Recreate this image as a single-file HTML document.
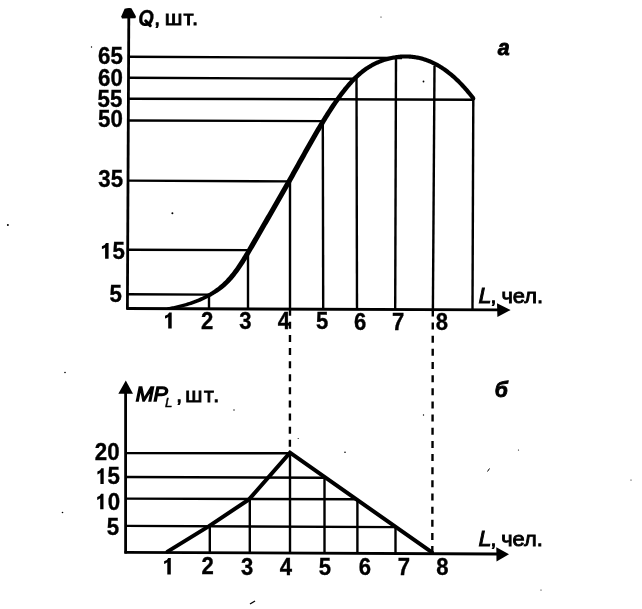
<!DOCTYPE html>
<html><head><meta charset="utf-8"><style>
html,body{margin:0;padding:0;background:#fff;}
svg{display:block;will-change:transform;}
line,path{stroke:#000;}
.f{fill:#000;stroke:none;}
text{font-family:"Liberation Sans",sans-serif;font-weight:bold;fill:#000;stroke:#000;stroke-width:0.35px;}
</style></head><body>
<svg width="642" height="609" viewBox="0 0 642 609">
<defs><clipPath id="qc" clipPathUnits="userSpaceOnUse"><rect x="-10" y="-30" width="40" height="31.3"/></clipPath></defs>
<line x1="128.8" y1="17" x2="127.4" y2="309.8" stroke-width="2.8"/>
<path d="M124.6,8.8 Q128,7.6 131.4,8.2 L136,16.5 L135.4,18.2 L122,18.6 L121.2,16.5 Z" class="f"/>
<line x1="127" y1="308.5" x2="498" y2="309.9" stroke-width="2.8"/>
<path d="M510.6,310 L497,303.2 L497.4,317 Z" class="f"/>
<line x1="128" y1="56.8" x2="402" y2="58" stroke-width="2.4"/>
<line x1="128" y1="77.8" x2="356" y2="78.8" stroke-width="2.4"/>
<line x1="128" y1="98.7" x2="474" y2="99.7" stroke-width="2.4"/>
<line x1="128" y1="120.5" x2="323" y2="121.1" stroke-width="2.4"/>
<line x1="128" y1="180.6" x2="290" y2="181.4" stroke-width="2.4"/>
<line x1="128" y1="249.8" x2="248" y2="250.1" stroke-width="2.4"/>
<line x1="128" y1="294.3" x2="209" y2="294.6" stroke-width="2.4"/>
<line x1="209" y1="295" x2="209" y2="309.5" stroke-width="2.4"/>
<line x1="248" y1="250" x2="248" y2="309.5" stroke-width="2.4"/>
<line x1="290" y1="181" x2="290" y2="309.5" stroke-width="2.4"/>
<line x1="322.8" y1="121" x2="323.2" y2="309.5" stroke-width="2.4"/>
<line x1="356.5" y1="78" x2="357" y2="309.5" stroke-width="2.4"/>
<line x1="396" y1="58" x2="395.2" y2="309.5" stroke-width="2.4"/>
<line x1="434.5" y1="66" x2="432.9" y2="309.5" stroke-width="2.4"/>
<line x1="473.3" y1="99.5" x2="472.5" y2="309.5" stroke-width="2.4"/>
<path d="M168.73,309.90 L169.74,309.75 L170.75,309.59 L171.76,309.43 L172.77,309.27 L173.78,309.09 L174.79,308.92 L175.80,308.73 L176.82,308.54 L177.83,308.34 L178.85,308.14 L179.86,307.93 L180.88,307.71 L181.89,307.48 L182.91,307.24 L183.92,307.00 L184.94,306.75 L185.96,306.48 L186.98,306.20 L187.99,305.92 L189.01,305.62 L190.03,305.31 L191.05,304.99 L192.06,304.67 L193.08,304.33 L194.10,303.98 L195.12,303.62 L196.14,303.24 L197.16,302.86 L198.19,302.46 L199.21,302.05 L200.23,301.63 L201.25,301.20 L202.27,300.75 L203.29,300.29 L204.32,299.81 L205.34,299.32 L206.37,298.83 L207.40,298.32 L208.43,297.81 L209.46,297.27 L210.49,296.72 L211.53,296.16 L212.56,295.58 L213.59,294.98 L214.63,294.37 L215.66,293.74 L216.70,293.08 L217.74,292.41 L218.78,291.71 L219.83,290.99 L220.87,290.24 L221.92,289.45 L222.97,288.64 L224.02,287.80 L225.07,286.92 L226.12,286.01 L227.16,285.05 L228.20,284.04 L229.24,283.00 L230.27,281.91 L231.31,280.79 L232.34,279.63 L233.37,278.43 L234.39,277.20 L235.42,275.93 L236.45,274.62 L237.47,273.28 L238.49,271.90 L239.51,270.49 L240.54,269.05 L241.56,267.57 L242.57,266.06 L243.59,264.52 L244.61,262.95 L245.62,261.35 L246.64,259.73 L247.65,258.08 L248.66,256.42 L249.67,254.73 L250.68,253.04 L251.69,251.33 L252.70,249.61 L253.71,247.88 L254.72,246.15 L255.72,244.41 L256.73,242.67 L257.73,240.94 L258.74,239.21 L259.74,237.48 L260.74,235.75 L261.75,234.02 L262.75,232.29 L263.75,230.56 L264.75,228.83 L265.75,227.10 L266.74,225.37 L267.74,223.65 L268.74,221.92 L269.74,220.19 L270.74,218.46 L271.74,216.73 L272.74,215.00 L273.73,213.27 L274.73,211.54 L275.73,209.81 L276.73,208.07 L277.73,206.33 L278.73,204.59 L279.73,202.85 L280.73,201.11 L281.73,199.37 L282.73,197.62 L283.73,195.87 L284.73,194.11 L285.73,192.36 L286.72,190.60 L287.72,188.83 L288.72,187.07 L289.72,185.29 L290.72,183.52 L291.72,181.74 L292.72,179.96 L293.72,178.17 L294.72,176.38 L295.72,174.59 L296.72,172.79 L297.72,170.99 L298.72,169.20 L299.72,167.40 L300.72,165.60 L301.71,163.81 L302.71,162.01 L303.71,160.21 L304.71,158.42 L305.71,156.63 L306.70,154.85 L307.70,153.06 L308.70,151.28 L309.70,149.51 L310.69,147.74 L311.69,145.97 L312.69,144.21 L313.68,142.46 L314.68,140.72 L315.68,138.98 L316.67,137.25 L317.67,135.53 L318.66,133.81 L319.66,132.11 L320.65,130.42 L321.65,128.74 L322.64,127.06 L323.63,125.40 L324.62,123.75 L325.60,122.11 L326.59,120.48 L327.58,118.87 L328.56,117.27 L329.55,115.68 L330.54,114.11 L331.52,112.56 L332.51,111.02 L333.49,109.50 L334.48,107.99 L335.46,106.50 L336.45,105.03 L337.43,103.58 L338.41,102.15 L339.40,100.74 L340.38,99.34 L341.36,97.97 L342.34,96.62 L343.32,95.29 L344.31,93.98 L345.29,92.70 L346.27,91.43 L347.25,90.20 L348.23,88.99 L349.21,87.80 L350.19,86.64 L351.17,85.50 L352.15,84.39 L353.13,83.30 L354.11,82.25 L355.08,81.22 L356.06,80.22 L357.03,79.24 L358.00,78.30 L358.97,77.39 L359.94,76.50 L360.92,75.64 L361.89,74.81 L362.86,74.01 L363.82,73.23 L364.79,72.48 L365.76,71.75 L366.73,71.05 L367.70,70.37 L368.66,69.72 L369.63,69.09 L370.60,68.48 L371.57,67.89 L372.53,67.33 L373.50,66.79 L374.47,66.27 L375.43,65.77 L376.40,65.28 L377.37,64.82 L378.33,64.38 L379.30,63.96 L380.27,63.55 L381.24,63.17 L382.21,62.80 L383.18,62.45 L384.15,62.12 L385.12,61.81 L386.09,61.51 L387.06,61.22 L388.04,60.95 L389.01,60.70 L389.98,60.45 L390.96,60.22 L391.93,60.01 L392.90,59.81 L393.87,59.62 L394.84,59.45 L395.82,59.29 L396.79,59.15 L397.76,59.02 L398.73,58.91 L399.69,58.81 L400.66,58.73 L401.63,58.66 L402.60,58.61 L403.57,58.57 L404.53,58.54 L405.50,58.54 L406.47,58.54 L407.44,58.57 L408.40,58.60 L409.37,58.66 L410.34,58.73 L411.30,58.81 L412.27,58.91 L413.23,59.03 L414.20,59.17 L415.17,59.32 L416.13,59.48 L417.10,59.67 L418.07,59.87 L419.03,60.08 L420.00,60.32 L420.97,60.57 L421.93,60.83 L422.90,61.12 L423.87,61.42 L424.84,61.74 L425.80,62.08 L426.77,62.43 L427.74,62.80 L428.71,63.19 L429.68,63.60 L430.65,64.03 L431.62,64.47 L432.59,64.93 L433.56,65.42 L434.54,65.92 L435.51,66.43 L436.48,66.97 L437.45,67.53 L438.43,68.10 L439.40,68.70 L440.38,69.31 L441.35,69.95 L442.33,70.60 L443.31,71.27 L444.28,71.97 L445.26,72.68 L446.24,73.41 L447.22,74.17 L448.20,74.94 L449.18,75.74 L450.16,76.55 L451.14,77.39 L452.12,78.24 L453.10,79.12 L454.08,80.02 L455.06,80.94 L456.05,81.88 L457.03,82.84 L458.01,83.82 L459.00,84.83 L459.98,85.86 L460.97,86.91 L461.95,87.98 L462.94,89.07 L463.92,90.18 L464.91,91.32 L465.90,92.48 L466.88,93.66 L467.87,94.87 L468.86,96.10 L469.85,97.35 L471.63,99.65 L474.97,97.11 L473.15,94.76 L472.14,93.48 L471.13,92.22 L470.12,90.99 L469.10,89.78 L468.09,88.59 L467.08,87.42 L466.06,86.28 L465.05,85.15 L464.03,84.05 L463.02,82.97 L462.00,81.92 L460.99,80.88 L459.97,79.87 L458.95,78.87 L457.94,77.90 L456.92,76.95 L455.90,76.02 L454.88,75.11 L453.86,74.22 L452.84,73.35 L451.82,72.51 L450.80,71.68 L449.78,70.88 L448.76,70.09 L447.74,69.33 L446.72,68.58 L445.69,67.86 L444.67,67.15 L443.65,66.47 L442.62,65.80 L441.60,65.16 L440.57,64.53 L439.55,63.93 L438.52,63.34 L437.49,62.78 L436.46,62.23 L435.44,61.70 L434.41,61.19 L433.38,60.70 L432.35,60.23 L431.32,59.78 L430.29,59.35 L429.26,58.94 L428.23,58.54 L427.20,58.17 L426.16,57.81 L425.13,57.47 L424.10,57.15 L423.07,56.85 L422.03,56.56 L421.00,56.30 L419.97,56.05 L418.93,55.82 L417.90,55.60 L416.87,55.41 L415.83,55.23 L414.80,55.07 L413.77,54.93 L412.73,54.81 L411.70,54.70 L410.66,54.61 L409.63,54.53 L408.60,54.48 L407.56,54.44 L406.53,54.41 L405.50,54.41 L404.47,54.42 L403.43,54.44 L402.40,54.49 L401.37,54.54 L400.34,54.62 L399.31,54.71 L398.27,54.82 L397.24,54.94 L396.21,55.07 L395.18,55.23 L394.16,55.39 L393.13,55.58 L392.10,55.78 L391.07,55.99 L390.04,56.22 L389.02,56.46 L387.99,56.72 L386.96,56.99 L385.94,57.27 L384.91,57.58 L383.88,57.89 L382.85,58.23 L381.82,58.58 L380.79,58.95 L379.76,59.34 L378.73,59.74 L377.70,60.16 L376.67,60.60 L375.63,61.06 L374.60,61.54 L373.57,62.04 L372.53,62.57 L371.50,63.11 L370.47,63.67 L369.43,64.26 L368.40,64.88 L367.37,65.51 L366.34,66.17 L365.30,66.85 L364.27,67.56 L363.24,68.30 L362.21,69.06 L361.18,69.84 L360.14,70.65 L359.11,71.49 L358.08,72.36 L357.06,73.26 L356.03,74.18 L355.00,75.13 L353.97,76.11 L352.94,77.12 L351.92,78.15 L350.89,79.22 L349.87,80.31 L348.85,81.42 L347.83,82.56 L346.81,83.73 L345.79,84.92 L344.77,86.13 L343.75,87.37 L342.73,88.63 L341.71,89.91 L340.69,91.22 L339.68,92.54 L338.66,93.89 L337.64,95.25 L336.62,96.64 L335.60,98.05 L334.59,99.47 L333.57,100.92 L332.55,102.38 L331.54,103.86 L330.52,105.36 L329.51,106.87 L328.49,108.40 L327.48,109.95 L326.46,111.51 L325.45,113.09 L324.44,114.68 L323.42,116.29 L322.41,117.90 L321.40,119.53 L320.38,121.18 L319.37,122.83 L318.36,124.50 L317.35,126.18 L316.35,127.87 L315.34,129.57 L314.34,131.29 L313.33,133.01 L312.33,134.74 L311.32,136.47 L310.32,138.22 L309.32,139.97 L308.31,141.73 L307.31,143.49 L306.31,145.26 L305.30,147.03 L304.30,148.81 L303.30,150.59 L302.30,152.38 L301.29,154.17 L300.29,155.96 L299.29,157.75 L298.29,159.54 L297.29,161.34 L296.28,163.14 L295.28,164.93 L294.28,166.73 L293.28,168.52 L292.28,170.31 L291.28,172.11 L290.28,173.89 L289.28,175.68 L288.28,177.46 L287.28,179.24 L286.28,181.01 L285.28,182.78 L284.28,184.55 L283.28,186.31 L282.28,188.07 L281.27,189.82 L280.27,191.57 L279.27,193.32 L278.27,195.07 L277.27,196.81 L276.27,198.55 L275.27,200.29 L274.27,202.03 L273.27,203.76 L272.27,205.50 L271.27,207.23 L270.27,208.96 L269.27,210.69 L268.26,212.42 L267.26,214.14 L266.26,215.87 L265.26,217.60 L264.26,219.32 L263.26,221.05 L262.26,222.78 L261.25,224.50 L260.25,226.23 L259.25,227.96 L258.25,229.69 L257.25,231.42 L256.26,233.16 L255.26,234.89 L254.26,236.63 L253.27,238.37 L252.27,240.11 L251.28,241.85 L250.28,243.59 L249.29,245.32 L248.30,247.05 L247.31,248.76 L246.32,250.46 L245.33,252.15 L244.34,253.82 L243.35,255.47 L242.36,257.09 L241.38,258.69 L240.39,260.26 L239.41,261.80 L238.43,263.31 L237.44,264.78 L236.46,266.22 L235.49,267.63 L234.51,269.00 L233.53,270.33 L232.55,271.63 L231.58,272.89 L230.61,274.11 L229.63,275.30 L228.66,276.44 L227.69,277.55 L226.73,278.62 L225.76,279.64 L224.80,280.63 L223.84,281.57 L222.88,282.49 L221.93,283.38 L220.98,284.24 L220.03,285.07 L219.08,285.86 L218.13,286.64 L217.17,287.38 L216.22,288.10 L215.26,288.81 L214.30,289.49 L213.34,290.15 L212.37,290.79 L211.41,291.42 L210.44,292.04 L209.47,292.64 L208.51,293.22 L207.54,293.79 L206.57,294.35 L205.60,294.89 L204.63,295.42 L203.66,295.93 L202.68,296.42 L201.71,296.89 L200.73,297.35 L199.75,297.80 L198.77,298.24 L197.79,298.67 L196.81,299.08 L195.84,299.48 L194.86,299.87 L193.88,300.25 L192.90,300.62 L191.92,300.97 L190.94,301.32 L189.95,301.66 L188.97,301.98 L187.99,302.30 L187.01,302.61 L186.02,302.91 L185.04,303.20 L184.06,303.48 L183.08,303.76 L182.09,304.04 L181.11,304.30 L180.12,304.56 L179.14,304.81 L178.15,305.05 L177.17,305.29 L176.18,305.52 L175.20,305.74 L174.21,305.95 L173.22,306.16 L172.23,306.37 L171.24,306.57 L170.25,306.76 L169.26,306.95 L168.27,307.14 Z M168.50,308.52 m-1.40,0 a1.40,1.40 0 1,0 2.80,0 a1.40,1.40 0 1,0 -2.80,0 M473.30,98.38 m-2.10,0 a2.10,2.10 0 1,0 4.20,0 a2.10,2.10 0 1,0 -4.20,0" class="f"/>
<line x1="125.6" y1="392" x2="125.6" y2="553.5" stroke-width="2.8"/>
<path d="M125.8,380.4 L133,393.8 L118.3,393.8 Z" class="f"/>
<line x1="124.5" y1="552.4" x2="497" y2="554" stroke-width="2.8"/>
<path d="M509,554.2 L496.3,547.2 L496.5,561.6 Z" class="f"/>
<line x1="125.6" y1="453.1" x2="290" y2="453.2" stroke-width="2.4"/>
<line x1="125.6" y1="477" x2="324.5" y2="477.8" stroke-width="2.4"/>
<line x1="125.6" y1="498.6" x2="357.4" y2="499.2" stroke-width="2.4"/>
<line x1="125.6" y1="525.9" x2="395.5" y2="527.1" stroke-width="2.4"/>
<line x1="209.8" y1="526" x2="209.8" y2="553" stroke-width="2.4"/>
<line x1="249.8" y1="498" x2="249.8" y2="553" stroke-width="2.4"/>
<line x1="290" y1="452.5" x2="290" y2="553" stroke-width="2.4"/>
<line x1="324.5" y1="477" x2="324.5" y2="553" stroke-width="2.4"/>
<line x1="357.4" y1="499.5" x2="357.4" y2="553" stroke-width="2.4"/>
<line x1="395.5" y1="526" x2="395.5" y2="553" stroke-width="2.4"/>
<path d="M167.5,551.6 L209,526.1 L249,499.4 L290,452.7 L432,552.4" fill="none" stroke-width="4.0" stroke-linejoin="miter" stroke-miterlimit="10" stroke-linecap="round"/>
<line x1="290" y1="308.7" x2="289.9" y2="452" stroke-width="2.4" stroke-dasharray="7 6.11"/>
<line x1="432.8" y1="309.4" x2="432.3" y2="552.5" stroke-width="2.4" stroke-dasharray="7 6.15"/>
<text transform="translate(122.8,64.2) scale(0.96,1)" font-size="23.2" text-anchor="end">65</text>
<text transform="translate(122.8,86.2) scale(0.96,1)" font-size="23.2" text-anchor="end">60</text>
<text transform="translate(122.4,106.6) scale(0.96,1)" font-size="23.2" text-anchor="end">55</text>
<text transform="translate(122.9,127.2) scale(0.96,1)" font-size="23.2" text-anchor="end">50</text>
<text transform="translate(123.1,187.4) scale(0.96,1)" font-size="23.2" text-anchor="end">35</text>
<text transform="translate(124.8,258.9) scale(0.96,1)" font-size="23.2" text-anchor="end">5</text>
<text transform="translate(122,302.3) scale(0.96,1)" font-size="23.2" text-anchor="end">5</text>
<text transform="translate(207.1,328.5) scale(0.96,1)" font-size="23" text-anchor="middle">2</text>
<text transform="translate(245.5,328.7) scale(0.96,1)" font-size="23" text-anchor="middle">3</text>
<text transform="translate(284.0,328.8) scale(0.96,1)" font-size="23" text-anchor="middle">4</text>
<text transform="translate(322.1,329.3) scale(0.96,1)" font-size="23" text-anchor="middle">5</text>
<text transform="translate(360.1,329.7) scale(0.96,1)" font-size="23" text-anchor="middle">6</text>
<text transform="translate(398.2,329.7) scale(0.96,1)" font-size="23" text-anchor="middle">7</text>
<text transform="translate(441.9,329.8) scale(0.96,1)" font-size="23" text-anchor="middle">8</text>
<text transform="translate(119.6,459.5) scale(0.96,1)" font-size="23.2" text-anchor="end">20</text>
<text transform="translate(119.9,484.1) scale(0.96,1)" font-size="23.2" text-anchor="end">5</text>
<text transform="translate(120.2,509.7) scale(0.96,1)" font-size="23.2" text-anchor="end">0</text>
<text transform="translate(119.2,535.3) scale(0.96,1)" font-size="23.2" text-anchor="end">5</text>
<text transform="translate(207.6,574.2) scale(0.96,1)" font-size="23" text-anchor="middle">2</text>
<text transform="translate(247.1,574.6) scale(0.96,1)" font-size="23" text-anchor="middle">3</text>
<text transform="translate(286.0,575.0) scale(0.96,1)" font-size="23" text-anchor="middle">4</text>
<text transform="translate(325.0,574.5) scale(0.96,1)" font-size="23" text-anchor="middle">5</text>
<text transform="translate(364.8,574.8000000000001) scale(0.96,1)" font-size="23" text-anchor="middle">6</text>
<text transform="translate(404.0,574.8000000000001) scale(0.96,1)" font-size="23" text-anchor="middle">7</text>
<text transform="translate(442.5,574.8000000000001) scale(0.96,1)" font-size="23" text-anchor="middle">8</text>
<path d="M171.70,312.50 L171.70,328.60 L168.20,328.60 L168.20,316.90 Q167.00,318.00 165.00,318.60 L165.00,315.80 Q168.40,314.70 169.10,312.50 Z" class="f"/>
<path d="M170.80,557.90 L170.80,574.40 L167.30,574.40 L167.30,562.30 Q166.10,563.40 164.10,564.00 L164.10,561.20 Q167.50,560.10 168.20,557.90 Z" class="f"/>
<path d="M108.60,243.00 L108.60,258.70 L105.10,258.70 L105.10,247.40 Q103.90,248.50 101.90,249.10 L101.90,246.30 Q105.30,245.20 106.00,243.00 Z" class="f"/>
<path d="M103.70,468.30 L103.70,484.00 L100.40,484.00 L100.40,472.70 Q99.20,473.80 97.40,474.40 L97.40,471.60 Q100.60,470.50 101.30,468.30 Z" class="f"/>
<path d="M103.50,493.80 L103.50,509.20 L100.20,509.20 L100.20,498.20 Q99.00,499.30 97.20,499.90 L97.20,497.10 Q100.40,496.00 101.10,493.80 Z" class="f"/>
<text transform="translate(138.2,24.8) scale(0.88,1)" font-size="22.6" text-anchor="start" font-style="italic" clip-path="url(#qc)">Q</text>
<path d="M145.8,21 L150.2,25.6" stroke-width="3.2" stroke-linecap="round"/>
<text transform="translate(154.2,24.6) scale(1.0,1)" font-size="21" text-anchor="start" style="font-weight:normal;stroke-width:0.9px">,</text>
<text transform="translate(164.8,24.7) scale(1.05,1)" font-size="21" text-anchor="start" letter-spacing="0.9" style="font-weight:normal;stroke-width:0.9px">шт.</text>
<text transform="translate(478.6,303.3) scale(1.06,1)" font-size="22" text-anchor="start" font-style="italic" style="font-weight:normal;stroke-width:0.9px">L</text>
<text transform="translate(490.5,303.1) scale(1.0,1)" font-size="21" text-anchor="start" style="font-weight:normal;stroke-width:0.9px">,</text>
<text transform="translate(501.5,303.1) scale(1.04,1)" font-size="21" text-anchor="start" style="font-weight:normal;stroke-width:0.9px">чел.</text>
<text transform="translate(478.6,546.1) scale(1.06,1)" font-size="22" text-anchor="start" font-style="italic" style="font-weight:normal;stroke-width:0.9px">L</text>
<text transform="translate(490.5,545.9) scale(1.0,1)" font-size="21" text-anchor="start" style="font-weight:normal;stroke-width:0.9px">,</text>
<text transform="translate(501.2,545.9) scale(1.04,1)" font-size="21" text-anchor="start" style="font-weight:normal;stroke-width:0.9px">чел.</text>
<text transform="translate(135.7,401.2) scale(1.05,1)" font-size="20.5" text-anchor="start" font-style="italic" style="font-weight:normal;stroke-width:1.3px">MP</text>
<text transform="translate(165,407.2) scale(0.98,1)" font-size="13.5" text-anchor="start" font-style="italic" style="font-weight:normal;stroke-width:0.5px">L</text>
<text transform="translate(176.3,401.8) scale(1.0,1)" font-size="21" text-anchor="start" style="font-weight:normal;stroke-width:0.9px">,</text>
<text transform="translate(185.2,402.1) scale(1.02,1)" font-size="21" text-anchor="start" letter-spacing="1.7" style="font-weight:normal;stroke-width:0.9px">шт.</text>
<text transform="translate(497.8,55.2) scale(0.95,1)" font-size="22.5" text-anchor="start" font-style="italic" style="stroke-width:0.9px">a</text>
<text transform="translate(494.8,397.4) scale(0.94,1)" font-size="22.5" text-anchor="start" font-style="italic" style="stroke-width:0.9px">б</text>
<path d="M250,604 L255,601" stroke-width="1.4"/>
<circle cx="7.9" cy="224.9" r="1.0" class="f"/>
<circle cx="91.5" cy="47" r="0.7" class="f"/>
<circle cx="172.4" cy="213.2" r="1.0" class="f"/>
<circle cx="423.5" cy="81.5" r="0.9" class="f"/>
<circle cx="381" cy="17" r="0.6" class="f"/>
<circle cx="65" cy="372.5" r="0.8" class="f"/>
<circle cx="234" cy="410" r="0.7" class="f"/>
<circle cx="62.5" cy="512.5" r="0.8" class="f"/>
<circle cx="423.5" cy="415" r="0.7" class="f"/>
<circle cx="345" cy="452.3" r="0.8" class="f"/>
<circle cx="298.2" cy="438.5" r="0.6" class="f"/>
<circle cx="518.5" cy="450" r="0.6" class="f"/>
<circle cx="631" cy="480" r="0.6" class="f"/>
<circle cx="541" cy="590" r="0.6" class="f"/>
<path d="M487.5,471.5 L489.5,468.5" stroke-width="1"/>
</svg>
</body></html>
